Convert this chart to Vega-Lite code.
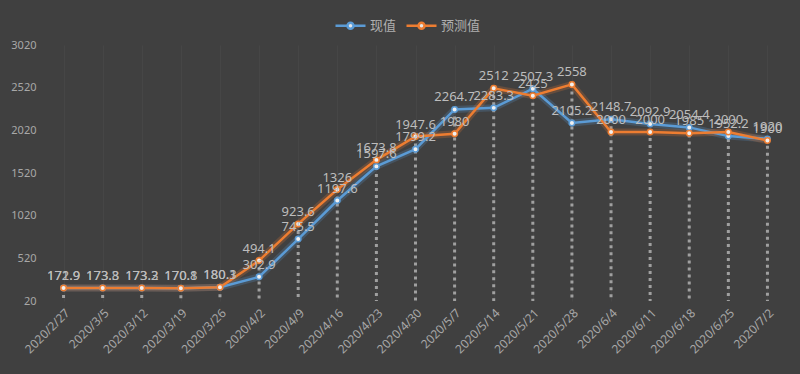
{
  "$schema": "https://vega.github.io/schema/vega-lite/v6.json",
  "width": 743,
  "height": 256,
  "autosize": {"type": "none"},
  "padding": {"left": 44, "top": 45, "right": 13, "bottom": 73},
  "background": "#404040",
  "config": {
    "view": {"stroke": null},
    "font": "Noto Sans CJK SC"
  },
  "data": {
    "values": [
      {"date": "2020/2/27", "series": "现值", "value": 171.9},
      {"date": "2020/3/5", "series": "现值", "value": 173.8},
      {"date": "2020/3/12", "series": "现值", "value": 173.3},
      {"date": "2020/3/19", "series": "现值", "value": 170.8},
      {"date": "2020/3/26", "series": "现值", "value": 180.3},
      {"date": "2020/4/2", "series": "现值", "value": 302.9},
      {"date": "2020/4/9", "series": "现值", "value": 745.5},
      {"date": "2020/4/16", "series": "现值", "value": 1197.6},
      {"date": "2020/4/23", "series": "现值", "value": 1597.6},
      {"date": "2020/4/30", "series": "现值", "value": 1799.2},
      {"date": "2020/5/7", "series": "现值", "value": 2264.7},
      {"date": "2020/5/14", "series": "现值", "value": 2283.3},
      {"date": "2020/5/21", "series": "现值", "value": 2507.3},
      {"date": "2020/5/28", "series": "现值", "value": 2105.2},
      {"date": "2020/6/4", "series": "现值", "value": 2148.7},
      {"date": "2020/6/11", "series": "现值", "value": 2092.9},
      {"date": "2020/6/18", "series": "现值", "value": 2054.4},
      {"date": "2020/6/25", "series": "现值", "value": 1952.2},
      {"date": "2020/7/2", "series": "现值", "value": 1920},
      {"date": "2020/2/27", "series": "预测值", "value": 172.9},
      {"date": "2020/3/5", "series": "预测值", "value": 173.3},
      {"date": "2020/3/12", "series": "预测值", "value": 173.2},
      {"date": "2020/3/19", "series": "预测值", "value": 170.1},
      {"date": "2020/3/26", "series": "预测值", "value": 180.1},
      {"date": "2020/4/2", "series": "预测值", "value": 494.1},
      {"date": "2020/4/9", "series": "预测值", "value": 923.6},
      {"date": "2020/4/16", "series": "预测值", "value": 1326},
      {"date": "2020/4/23", "series": "预测值", "value": 1673.8},
      {"date": "2020/4/30", "series": "预测值", "value": 1947.6},
      {"date": "2020/5/7", "series": "预测值", "value": 1980},
      {"date": "2020/5/14", "series": "预测值", "value": 2512},
      {"date": "2020/5/21", "series": "预测值", "value": 2425},
      {"date": "2020/5/28", "series": "预测值", "value": 2558},
      {"date": "2020/6/4", "series": "预测值", "value": 2000},
      {"date": "2020/6/11", "series": "预测值", "value": 2000},
      {"date": "2020/6/18", "series": "预测值", "value": 1985},
      {"date": "2020/6/25", "series": "预测值", "value": 2000},
      {"date": "2020/7/2", "series": "预测值", "value": 1900}
    ]
  },
  "encoding": {
    "x": {
      "field": "date", "type": "ordinal", "sort": null,
      "scale": {"type": "point", "padding": 0.5},
      "axis": {
        "title": null, "labelAngle": -45, "labelColor": "#a8a8a8", "labelFontSize": 12,
        "labelFont": "Noto Sans", "domain": false, "ticks": false, "labelPadding": 6, "labelDx": 6,
        "grid": true, "gridColor": "#464646", "gridWidth": 1
      }
    },
    "y": {
      "field": "value", "type": "quantitative",
      "scale": {"domain": [20, 3020], "nice": false, "zero": false},
      "axis": {
        "title": null, "values": [20, 520, 1020, 1520, 2020, 2520, 3020], "format": "d",
        "labelColor": "#a8a8a8", "labelFontSize": 11, "labelFont": "Noto Sans",
        "domain": false, "ticks": false, "grid": false, "labelPadding": 8
      }
    }
  },
  "layer": [
    {
      "mark": {"type": "rule", "color": "#a0a0a0", "strokeWidth": 3, "strokeDash": [3, 4]},
      "encoding": {
        "y": {"aggregate": "max", "field": "value", "type": "quantitative"},
        "y2": {"datum": 20}
      }
    },
    {
      "mark": {"type": "line", "strokeWidth": 7, "opacity": 0.22},
      "encoding": {
        "color": {"field": "series", "type": "nominal"}
      }
    },
    {
      "mark": {"type": "line", "strokeWidth": 2.5},
      "encoding": {
        "color": {"field": "series", "type": "nominal",
          "scale": {"domain": ["现值", "预测值"], "range": ["#5b9bd5", "#ed7d31"]},
          "legend": {
            "title": null, "orient": "none", "legendX": 290, "legendY": -36, "direction": "horizontal",
            "labelColor": "#b0b0b0", "labelFontSize": 13,
            "symbolType": "M-1,0L-0.2,0M0.2,0L1,0M0.2,0A0.2,0.2 0 1,1 -0.2,0A0.2,0.2 0 1,1 0.2,0",
            "symbolSize": 900, "symbolStrokeWidth": 2.5, "symbolOpacity": 1,
            "symbolFillColor": "#e6e6e6",
            "columnPadding": 4, "labelOffset": 3,
            "encode": {"symbols": {"update": {"opacity": {"value": 1}, "strokeOpacity": {"value": 1}}}}
          }
        }
      }
    },
    {
      "mark": {"type": "point", "filled": false, "fill": "#f0f0f0", "fillOpacity": 1, "size": 30, "strokeWidth": 1.5},
      "encoding": {
        "color": {"field": "series", "type": "nominal"}
      }
    },
    {
      "mark": {"type": "text", "dy": -12, "fontSize": 13, "color": "#bdbdbd", "font": "Noto Sans"},
      "encoding": {
        "text": {"field": "value", "type": "quantitative"}
      }
    }
  ]
}
